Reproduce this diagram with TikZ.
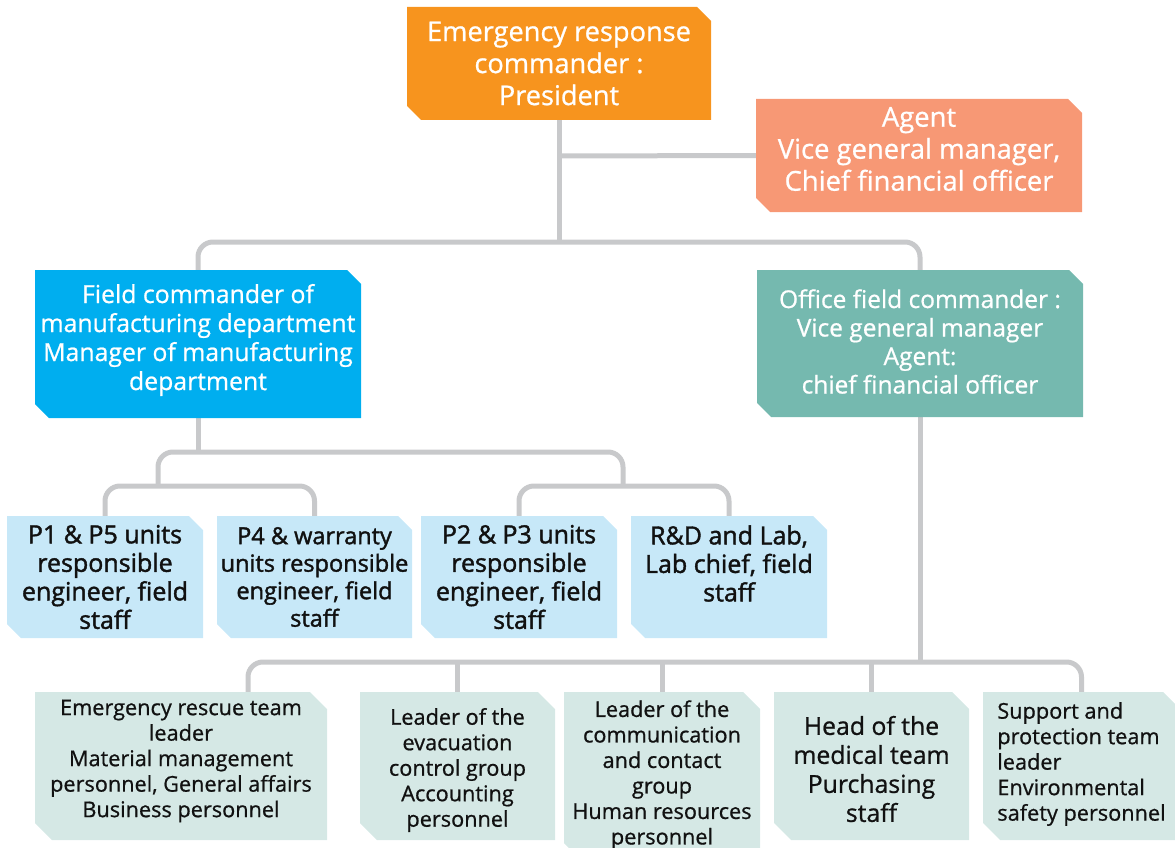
\documentclass[tikz,border=0pt]{standalone}
\usepackage{fontspec}
\setmainfont{Open Sans}
\newfontfamily\medfont[FakeBold=0.8]{Open Sans}
\newfontfamily\semifont[FakeBold=1.6]{Open Sans}
\usetikzlibrary{backgrounds}
\definecolor{corange}{HTML}{F7941E}
\definecolor{csalmon}{HTML}{F79875}
\definecolor{cblue}{HTML}{00AEEF}
\definecolor{cteal}{HTML}{75B9AF}
\definecolor{clblue}{HTML}{C7E8F8}
\definecolor{clteal}{HTML}{D5E8E5}
\definecolor{cline}{HTML}{C8C9CB}
\definecolor{ctext}{HTML}{111111}
\newcommand\fsz[2]{\fontsize{#1}{#2}\selectfont}
\tikzset{
  cbox/.style n args={4}{rectangle, inner sep=0pt,
    minimum width=#1, minimum height=#2,
    path picture={\fill[#3]
      (path picture bounding box.north west)
      -- ([xshift=-#4]path picture bounding box.north east)
      -- ([yshift=-#4]path picture bounding box.north east)
      -- (path picture bounding box.south east)
      -- ([xshift=#4]path picture bounding box.south west)
      -- ([yshift=#4]path picture bounding box.south west) -- cycle;}},
  topbox/.style 2 args={cbox={#1}{#2}{corange}{14pt}},
  agentbox/.style 2 args={cbox={#1}{#2}{csalmon}{14pt}},
  fieldbox/.style 2 args={cbox={#1}{#2}{cblue}{14pt}},
  officebox/.style 2 args={cbox={#1}{#2}{cteal}{14pt}},
  unitbox/.style 2 args={cbox={#1}{#2}{clblue}{14pt}},
  teambox/.style 2 args={cbox={#1}{#2}{clteal}{17pt}},
  wtxt/.style={inner sep=0pt, align=center, text=white, font=\medfont\fsz{#1}{32}},
  wtxt/.default=27.2,
  utxt/.style={inner sep=0pt, align=center, text=ctext, font=\semifont\fsz{25}{28.5}},
  ttxt/.style={inner sep=0pt, align=center, text=ctext, font=\medfont\fsz{21.7}{25.5}},
  conn/.style={draw=cline, line width=5pt},
  rconn/.style={conn, rounded corners=15pt},
}
\begin{document}
\begin{tikzpicture}[x=1pt, y=-1pt]
\clip (0,0) rectangle (1175,848);

\coordinate (j1) at (559,242);
\coordinate (a1) at (559,156);
\coordinate (j2) at (198,452);
\coordinate (j3) at (158,486);
\coordinate (j4) at (623,486);
\coordinate (j5) at (920,662);
\coordinate (d1) at (248,692);

% boxes
\node[topbox={304pt}{113pt}] (top) at (559,63.5) {};
\node[agentbox={326pt}{113pt}] (agent) at (919,155.5) {};
\node[fieldbox={326pt}{148pt}] (field) at (198,344) {};
\node[officebox={326pt}{147pt}] (office) at (920,343.5) {};
\node[unitbox={196pt}{122pt}] (p1) at (105,577) {};
\node[unitbox={195pt}{122pt}] (p4) at (314.5,577) {};
\node[unitbox={196pt}{122pt}] (p2) at (519,577) {};
\node[unitbox={196pt}{122pt}] (rd) at (729,577) {};
\node[teambox={292pt}{148pt}] (t1) at (181,766) {};
\node[teambox={195pt}{148pt}] (t2) at (457.5,766) {};
\node[teambox={196pt}{168pt}] (t3) at (662,776) {};
\node[teambox={195pt}{148pt}] (t4) at (871.5,766) {};
\node[teambox={197pt}{148pt}] (t5) at (1081.5,766) {};

% texts
\node[wtxt] (topT) at (top.center) {Emergency response\\commander :\\President};
\node[wtxt=27.4] (agentT) at ([yshift=6.5pt]agent.center) {Agent\\Vice general manager,\\Chief financial officer};
\node[wtxt, font=\medfont\fsz{24.8}{29}] (fieldT) at ([yshift=4pt]field.center) {Field commander of\\manufacturing department\\Manager of manufacturing\\department};
\node[wtxt, font=\medfont\fsz{24.5}{28.5}] (officeT) at ([yshift=2pt]office.center) {Office field commander :\\Vice general manager\\Agent:\\chief financial officer};

\node[utxt] (p1T) at (p1.center) {P1 \& P5 units\\responsible\\engineer, field\\staff};
\node[utxt, font=\semifont\fsz{23.5}{27.5}] (p4T) at (p4.center) {P4 \& warranty\\units responsible\\engineer, field\\staff};
\node[utxt] (p2T) at (p2.center) {P2 \& P3 units\\responsible\\engineer, field\\staff};
\node[utxt] (rdT) at ([yshift=13.5pt]rd.center) {R\&D and Lab,\\Lab chief, field\\staff};

\node[ttxt] (t1T) at ([yshift=5pt]t1.center) {Emergency rescue team\\leader\\Material management\\personnel, General affairs\\Business personnel};
\node[ttxt] (t2T) at ([yshift=-4pt]t2.center) {Leader of the\\evacuation\\control group\\Accounting\\personnel};
\node[ttxt] (t3T) at ([yshift=1pt]t3.center) {Leader of the\\communication\\and contact\\group\\Human resources\\personnel};
\node[ttxt, font=\medfont\fsz{24.8}{29}] (t4T) at ([yshift=-3pt]t4.center) {Head of the\\medical team\\Purchasing\\staff};
\node[ttxt, align=left] (t5T) at ([yshift=2pt]t5.center) {Support and\\protection team\\leader\\Environmental\\safety personnel};

% connectors
\begin{scope}[on background layer]
\draw[conn] (top.south) -- (j1);
\draw[conn] (a1) -- (agent.west);
\draw[rconn] (field.north) -- (field.north |- j1) -- (office.north |- j1) -- (office.north);
\draw[conn] (field.south) -- (j2);
\draw[rconn] (j3) -- (j3 |- j2) -- (j4 |- j2) -- (j4);
\draw[rconn] (p1.north) -- (p1.north |- j3) -- (p4.north |- j3) -- (p4.north);
\draw[rconn] (p2.north) -- (p2.north |- j4) -- (rd.north |- j4) -- (rd.north);
\draw[conn] (office.south) -- (j5);
\draw[rconn] (d1) -- (d1 |- j5) -- (t5.north |- j5) -- (t5.north);
\draw[conn] (t2.north) -- (t2.north |- j5);
\draw[conn] (t3.north) -- (t3.north |- j5);
\draw[conn] (t4.north) -- (t4.north |- j5);
\end{scope}
\end{tikzpicture}
\end{document}
